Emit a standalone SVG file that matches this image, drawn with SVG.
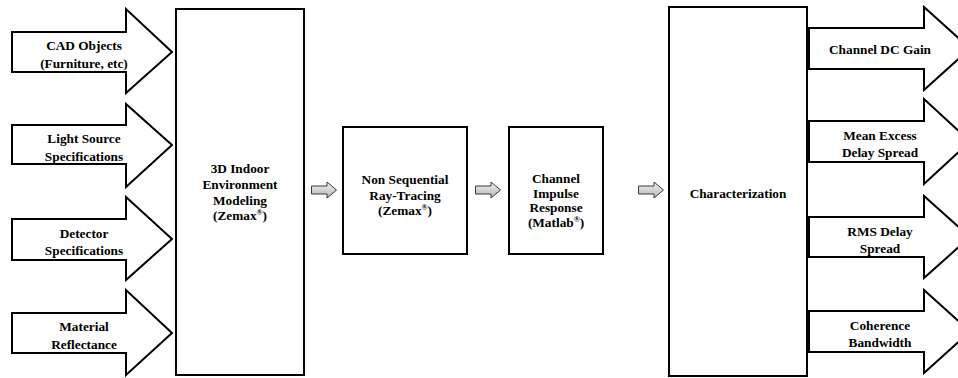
<svg xmlns="http://www.w3.org/2000/svg" width="958" height="378" viewBox="0 0 958 378">
<defs>
<linearGradient id="g" x1="0" y1="0" x2="0" y2="1">
<stop offset="0" stop-color="#f2f2f2"/>
<stop offset="1" stop-color="#b4b4b4"/>
</linearGradient>
<style>
.box{fill:#fff;stroke:#000;stroke-width:2}
.big{fill:#fff;stroke:#000;stroke-width:2;stroke-linejoin:miter}
.sm{fill:url(#g);stroke:#3a3a3a;stroke-width:1}
text{font-family:'Liberation Serif','Times New Roman',Times,serif;font-weight:bold;font-size:13.3px;fill:#000;text-anchor:middle}
.sup{font-size:8px}
</style>
</defs>
<rect width="958" height="378" fill="#fff"/>
<g id="in-cad">
<path class="big" d="M12,32 H126 V9 L172,52 L126,93 V72 H12 Z"/>
<text x="84" y="50" font-family="Liberation Serif">CAD Objects</text>
<text x="84" y="67.5">(Furniture, etc)</text>
</g>
<g id="in-light">
<path class="big" d="M12,125 H126 V104 L172,145 L126,187 V164 H12 Z"/>
<text x="84" y="143">Light Source</text>
<text x="84" y="160.5">Specifications</text>
</g>
<g id="in-detector">
<path class="big" d="M12,219 H126 V197 L172,239 L126,280 V260 H12 Z"/>
<text x="84" y="237.5">Detector</text>
<text x="84" y="255">Specifications</text>
</g>
<g id="in-material">
<path class="big" d="M12,313 H126 V290 L172,333 L126,375 V353 H12 Z"/>
<text x="84" y="331">Material</text>
<text x="84" y="348.5">Reflectance</text>
</g>
<g id="modeling">
<rect class="box" x="176" y="9" width="128" height="366"/>
<text x="240" y="173">3D Indoor</text>
<text x="240" y="189">Environment</text>
<text x="240" y="204.5">Modeling</text>
<text x="240" y="220">(Zemax<tspan class="sup" dy="-5">®</tspan><tspan dy="5">)</tspan></text>
</g>
<g id="raytracing">
<rect class="box" x="343" y="127" width="124" height="127"/>
<text x="405" y="184">Non Sequential</text>
<text x="405" y="199.5">Ray-Tracing</text>
<text x="405" y="215">(Zemax<tspan class="sup" dy="-5">®</tspan><tspan dy="5">)</tspan></text>
</g>
<g id="impulse">
<rect class="box" x="509" y="127" width="94" height="127"/>
<text x="556" y="183">Channel</text>
<text x="556" y="197.5">Impulse</text>
<text x="556" y="212">Response</text>
<text x="556" y="226.5">(Matlab<tspan class="sup" dy="-5">®</tspan><tspan dy="5">)</tspan></text>
</g>
<g id="characterization">
<rect class="box" x="669" y="7" width="138" height="369"/>
<text x="738" y="198">Characterization</text>
</g>
<g id="out-gain">
<path class="big" d="M809,28 H924 V7 L970,48.5 L924,90 V69 H809 Z"/>
<text x="880" y="54">Channel DC Gain</text>
</g>
<g id="out-excess">
<path class="big" d="M809,121 H924 V99 L970,141.5 L924,184 V162 H809 Z"/>
<text x="880" y="140">Mean Excess</text>
<text x="880" y="157">Delay Spread</text>
</g>
<g id="out-rms">
<path class="big" d="M809,217 H924 V196 L970,237 L924,278 V257 H809 Z"/>
<text x="880" y="235.5">RMS Delay</text>
<text x="880" y="252.5">Spread</text>
</g>
<g id="out-coherence">
<path class="big" d="M809,311 H924 V290 L970,331.5 L924,373 V352 H809 Z"/>
<text x="880" y="330">Coherence</text>
<text x="880" y="347">Bandwidth</text>
</g>
<g id="connectors">
<path class="sm" d="M311.5,186 H327 V182 L336.5,190 L327,198 V194 H311.5 Z"/>
<path class="sm" d="M475.5,186 H491 V182 L500.5,190 L491,198 V194 H475.5 Z"/>
<path class="sm" d="M638.5,186 H654 V182 L663.5,190 L654,198 V194 H638.5 Z"/>
</g>
</svg>
